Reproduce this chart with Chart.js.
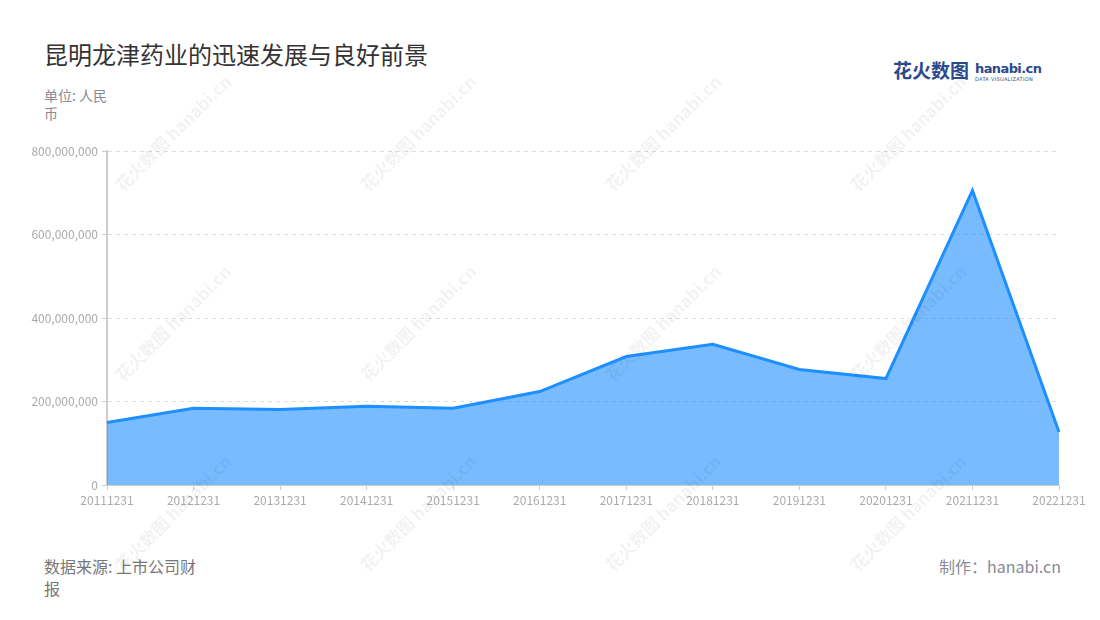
<!DOCTYPE html>
<html>
<head>
<meta charset="utf-8">
<script src="https://cdn.jsdelivr.net/npm/chart.js@4"></script>
<style>
  body { margin: 0; background: #fff; font-family: "Noto Sans CJK SC", "Noto Sans", sans-serif; }
  #wrap { position: relative; width: 1100px; height: 620px; overflow: hidden; }
  .txt { position: absolute; white-space: nowrap; }
  #title { left: 44px; top: 38px; font-size: 24px; line-height: 32px; color: #333; }
  #unit { left: 44px; top: 86px; width: 68px; white-space: normal; font-size: 14px; line-height: 18px; color: #888a96; }
  #source { left: 44px; top: 555px; width: 156px; white-space: normal; font-size: 16px; line-height: 22px; color: #777; }
  #maker { right: 39px; top: 555px; font-size: 16px; line-height: 22px; color: #888a96; }
  #logo { left: 893px; top: 58px; width: 150px; height: 26px; color: #2b4a8b; }
  #logo .cn { position: absolute; left: 0; top: 0; font-size: 19px; line-height: 24px; font-weight: bold; }
  #logo .en { position: absolute; left: 82px; top: 3px; font-family: "DejaVu Sans", sans-serif; font-size: 13px; line-height: 15px; font-weight: bold; letter-spacing: -0.6px; }
  #logo .sub { position: absolute; left: 82px; top: 18px; font-size: 5px; line-height: 6px; font-family: "DejaVu Sans", sans-serif; letter-spacing: 0.3px; }
  .wm { position: absolute; color: rgba(0,0,0,0.05); font-size: 17px; font-weight: bold; transform: rotate(-45deg); white-space: nowrap; pointer-events: none; }
  #box { position: absolute; left: 0; top: 140px; width: 1100px; height: 380px; }
</style>
</head>
<body>
<div id="wrap">
  <div id="box"><canvas id="chart"></canvas></div>
  <div class="txt" id="title">昆明龙津药业的迅速发展与良好前景</div>
  <div class="txt" id="unit">单位: 人民币</div>
  <div class="txt" id="logo"><span class="cn">花火数图</span><span class="en">hanabi.cn</span><span class="sub">DATA VISUALIZATION</span></div>
  <div class="txt" id="source">数据来源: 上市公司财报</div>
  <div class="txt" id="maker">制作：hanabi.cn</div>
</div>
<script>
// 年报日期
const categories = ["20111231", "20121231", "20131231", "20141231", "20151231", "20161231",
                    "20171231", "20181231", "20191231", "20201231", "20211231", "20221231"];
// 数值（人民币）
const values = [150000000, 184000000, 181000000, 189000000, 184000000, 224000000,
                308000000, 337000000, 277000000, 255000000, 706000000, 127000000];
const yTicks = [0, 200000000, 400000000, 600000000, 800000000];

// 水印
const wmPos = [[95, 120], [340, 120], [585, 120], [830, 120],
               [95, 310], [340, 310], [585, 310], [830, 310],
               [95, 500], [340, 500], [585, 500], [830, 500]];
const wrap = document.getElementById("wrap");
wmPos.forEach(p => {
    const d = document.createElement("div");
    d.className = "wm";
    d.style.left = p[0] + "px";
    d.style.top = p[1] + "px";
    d.textContent = "花火数图 hanabi.cn";
    wrap.appendChild(d);
});

const ctx = document.getElementById("chart").getContext("2d");
new Chart(ctx, {
    type: "line",
    data: {
        labels: categories,
        datasets: [{
            data: values,
            borderColor: "#1e8fff",
            borderWidth: 3,
            backgroundColor: "rgba(30,144,255,0.6)",
            fill: "origin",
            pointRadius: 0,
            tension: 0
        }]
    },
    options: {
        responsive: true,
        maintainAspectRatio: false,
        animation: false,
        layout: { padding: { left: 0, right: 41, top: 10, bottom: 0 } },
        plugins: { legend: { display: false }, tooltip: { enabled: false } },
        scales: {
            x: {
                afterFit: s => { s.height = 35; },
                grid: { drawOnChartArea: false, drawTicks: true, tickLength: 5, color: "#ccc" },
                border: { display: true, color: "#ccc", width: 1 },
                ticks: {
                    color: "#aaa", maxRotation: 0, autoSkip: false, padding: 3,
                    font: { family: "Noto Sans CJK SC", size: 12 }
                }
            },
            y: {
                min: 0,
                max: 800000000,
                afterFit: s => { s.width = 107; },
                afterBuildTicks: s => { s.ticks = yTicks.map(v => ({ value: v })); },
                grid: { color: "#ddd", tickLength: 5, tickColor: "#ccc" },
                border: { display: true, color: "#ccc", width: 2, dash: [4, 4] },
                ticks: {
                    color: "#aaa", padding: 4,
                    font: { family: "Noto Sans CJK SC", size: 12 },
                    callback: v => v.toLocaleString("en-US")
                }
            }
        }
    }
});
</script>
</body>
</html>
